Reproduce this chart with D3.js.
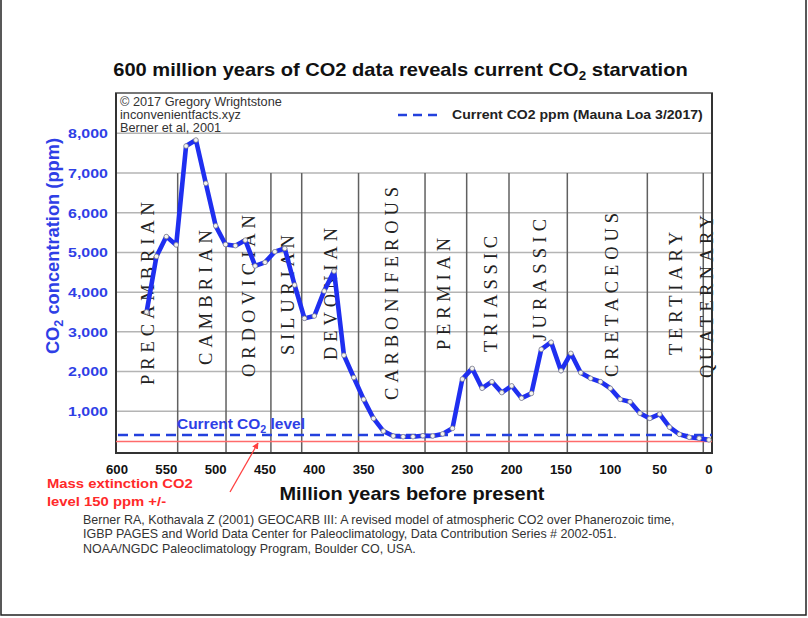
<!DOCTYPE html>
<html><head><meta charset="utf-8">
<script src="https://cdn.jsdelivr.net/npm/d3@7"></script>
<style>body{margin:0;background:#fff}svg{display:block}</style>
</head><body><svg id="c" width="808" height="618"></svg>
<script>
// ---- data ----
const ages = [570,560,550,540,530,520,510,500,490,480,470,460,450,440,430,420,410,400,390,380,370,360,350,340,330,320,310,300,290,280,270,260,250,240,230,220,210,200,190,180,170,160,150,140,130,120,110,100,90,80,70,60,50,40,30,20,10,0];
const co2 = [3500,4900,5400,5190,7680,7830,6740,5670,5200,5170,5310,4660,4750,5020,5100,4180,3340,3400,4030,4530,2410,1850,1300,820,500,378,360,360,385,378,430,570,1810,2080,1580,1745,1470,1640,1330,1450,2560,2740,2020,2460,1970,1830,1745,1580,1300,1240,950,820,930,600,420,345,320,280];
const yTicks = [1000,2000,3000,4000,5000,6000,7000,8000];
const xTicks = [600,550,500,450,400,350,300,250,200,150,100,50,0];
const periodBoundaries = [538.5,489.5,444,412.8,355.2,287.8,245.6,202.7,143.6,62.5,5.8];
const periodNames = ["PRECAMBRIAN","CAMBRIAN","ORDOVICIAN","SILURIAN","DEVONIAN","CARBONIFEROUS","PERMIAN","TRIASSIC","JURASSIC","CRETACEOUS","TERTIARY","QUATERNARY"];
const periodLabelAge = [569.1,510.8,467.2,427.7,384.1,321.3,268.6,221.9,171.3,99.3,34.4,3];
const currentCO2 = 403;
const extinctionCO2 = 240;
const captionLines = [
  "Berner RA, Kothavala Z (2001) GEOCARB III: A revised model of atmospheric CO2 over Phanerozoic time,",
  "IGBP PAGES and World Data Center for Paleoclimatology, Data Contribution Series # 2002-051.",
  "NOAA/NGDC Paleoclimatology Program, Boulder CO, USA."
];
const creditLines = ["\u00A9 2017 Gregory Wrightstone","inconvenientfacts.xyz","Berner et al, 2001"];
const noteLines = ["Mass extinction CO2","level 150 ppm +/-"];

// ---- layout (label extents in ppm along the rotated text) ----
const periodLabelSpan = [[1662,6270],[2166,5565],[1864,5943],[2418,5439],[2292,5616],[1284,6648],[2543,5364],[2493,5414],[2770,5842],[1864,5993],[2418,5515],[1838,5943]];

const svg = d3.select("#c");
const SANS = "'Liberation Sans', Arial, sans-serif";
const SERIF = "'Liberation Serif', 'Times New Roman', serif";
const BLUE = "#2f3fe6";

// horizontal stretch helper: scales text horizontally about anchor x
function stretch(sel, ax, k){ sel.attr("transform",`translate(${ax},0) scale(${k},1) translate(${-ax},0)`); }
function kFor(node, target){ return target / node.getComputedTextLength(); }

svg.append("rect").attr("width",808).attr("height",618).attr("fill","#fff");
svg.append("path").attr("d","M1,0V615H806V0").attr("fill","none").attr("stroke","#222").attr("stroke-width",1.5);

const x = d3.scaleLinear().domain([600,0]).range([117,709]);
const y = d3.scaleLinear().domain([0,9000]).range([451,93.6]);
const L=116,R=712,T=93,B=453;

svg.append("g").selectAll("line").data(yTicks).join("line")
  .attr("x1",L).attr("x2",R).attr("y1",d=>y(d)).attr("y2",d=>y(d))
  .attr("stroke","#b4b4b4").attr("stroke-width",1.5);
svg.append("g").selectAll("line").data(periodBoundaries).join("line")
  .attr("x1",d=>x(d)).attr("x2",d=>x(d)).attr("y1",y(7000)).attr("y2",B)
  .attr("stroke","#606060").attr("stroke-width",1.5);

svg.append("g").selectAll("text").data(periodNames).join("text")
  .attr("transform",(d,i)=>`translate(${x(periodLabelAge[i])+6.5},${y(periodLabelSpan[i][0])}) rotate(-90)`)
  .attr("textLength",(d,i)=>y(periodLabelSpan[i][0])-y(periodLabelSpan[i][1]))
  .attr("lengthAdjust","spacing")
  .attr("font-family",SERIF).attr("font-size",18.5).attr("fill","#222")
  .text(d=>d);

svg.append("rect").attr("x",L).attr("y",T).attr("width",R-L).attr("height",B-T)
  .attr("fill","none").attr("stroke","#777").attr("stroke-width",2);
svg.append("path").attr("d",`M${L},${T}V${B}H${R}V${T}`).attr("fill","none").attr("stroke","#333").attr("stroke-width",2);

svg.append("line").attr("x1",L).attr("x2",R).attr("y1",y(extinctionCO2)).attr("y2",y(extinctionCO2))
  .attr("stroke","#ff6b6b").attr("stroke-width",1.6);
svg.append("line").attr("x1",L+2).attr("x2",R).attr("y1",y(currentCO2)).attr("y2",y(currentCO2))
  .attr("stroke","#2340dd").attr("stroke-width",2.5).attr("stroke-dasharray","10,6");

const pts = ages.map((a,i)=>[a,co2[i]]);
svg.append("path").datum(pts)
  .attr("d",d3.line().x(d=>x(d[0])).y(d=>y(d[1])))
  .attr("fill","none").attr("stroke","#1f2ff0").attr("stroke-width",4.6).attr("stroke-linejoin","round");
svg.append("g").selectAll("circle").data(pts).join("circle")
  .attr("cx",d=>x(d[0])).attr("cy",d=>y(d[1])).attr("r",2.3)
  .attr("fill","#f4f4f4").attr("stroke","#888").attr("stroke-width",0.8);

// y tick labels
const yl = svg.append("g").selectAll("text").data(yTicks).join("text")
  .attr("x",108).attr("y",d=>y(d)+4.8).attr("text-anchor","end")
  .attr("font-family",SANS).attr("font-weight","bold").attr("font-size",13).attr("fill",BLUE)
  .text(d=>d3.format(",")(d));
{ const k = kFor(yl.nodes()[7], 40); yl.each(function(){ stretch(d3.select(this),108,k); }); }

// x tick labels
const xl = svg.append("g").selectAll("text").data(xTicks).join("text")
  .attr("x",d=>x(d)).attr("y",474.5).attr("text-anchor","middle")
  .attr("font-family",SANS).attr("font-weight","bold").attr("font-size",12.5).attr("fill","#111")
  .text(d=>d);
{ const k = kFor(xl.nodes()[0], 22); xl.each(function(d){ stretch(d3.select(this),x(d),k); }); }

// y axis title
const yt = svg.append("text").attr("transform","translate(59,246) rotate(-90)").attr("text-anchor","middle")
  .attr("font-family",SANS).attr("font-weight","bold").attr("font-size",18.3).attr("fill",BLUE);
yt.append("tspan").text("CO");
yt.append("tspan").attr("font-size",12.5).attr("dy",4).text("2");
yt.append("tspan").attr("dy",-4).text(" concentration (ppm)");

// x axis title
const xt = svg.append("text").attr("x",412).attr("y",500.5).attr("text-anchor","middle")
  .attr("font-family",SANS).attr("font-weight","bold").attr("font-size",18).attr("fill","#111")
  .text("Million years before present");
stretch(xt,412,kFor(xt.node(),265));

// title
const tt = svg.append("text").attr("x",400.5).attr("y",76.5).attr("text-anchor","middle")
  .attr("font-family",SANS).attr("font-weight","bold").attr("font-size",18).attr("fill","#111");
tt.append("tspan").text("600 million years of CO2 data reveals current CO");
tt.append("tspan").attr("font-size",12).attr("dy",4).text("2");
tt.append("tspan").attr("dy",-4).text(" starvation");
stretch(tt,400.5,kFor(tt.node(),575));

// credits
const cr = svg.append("g").selectAll("text").data(creditLines).join("text")
  .attr("x",120).attr("y",(d,i)=>106.5+i*12.7)
  .attr("font-family",SANS).attr("font-size",12).attr("fill","#333")
  .text(d=>d);
{ const k = kFor(cr.nodes()[0], 162); cr.each(function(){ stretch(d3.select(this),120,k); }); }

// legend
svg.append("line").attr("x1",398).attr("x2",442).attr("y1",115).attr("y2",115)
  .attr("stroke","#2340dd").attr("stroke-width",2.5).attr("stroke-dasharray","9,6");
const lg = svg.append("text").attr("x",452).attr("y",119.5)
  .attr("font-family",SANS).attr("font-weight","bold").attr("font-size",12.5).attr("fill","#222")
  .text("Current CO2 ppm (Mauna Loa 3/2017)");
stretch(lg,452,kFor(lg.node(),251));

// Current CO2 level label
const cl = svg.append("text").attr("x",177).attr("y",429.5)
  .attr("font-family",SANS).attr("font-weight","bold").attr("font-size",14.5).attr("fill",BLUE);
cl.append("tspan").text("Current CO");
cl.append("tspan").attr("font-size",10).attr("dy",4).text("2");
cl.append("tspan").attr("dy",-4).text(" level");
stretch(cl,177,kFor(cl.node(),128));

// extinction annotation
svg.append("defs").append("marker").attr("id","ah").attr("viewBox","0 0 10 10").attr("refX",9).attr("refY",5)
  .attr("markerWidth",5).attr("markerHeight",5).attr("orient","auto")
  .append("path").attr("d","M0,0L10,5L0,10z").attr("fill","#ff4040");
svg.append("line").attr("x1",230).attr("y1",492).attr("x2",258).attr("y2",443)
  .attr("stroke","#ff4040").attr("stroke-width",1.3).attr("marker-end","url(#ah)");
const nt = svg.append("g").selectAll("text").data(noteLines).join("text")
  .attr("x",47).attr("y",(d,i)=>488.5+i*18)
  .attr("font-family",SANS).attr("font-weight","bold").attr("font-size",13.5).attr("fill","#ff2a2a")
  .text(d=>d);
{ const k = kFor(nt.nodes()[0], 146); nt.each(function(){ stretch(d3.select(this),47,k); }); }

// caption
const cp = svg.append("g").selectAll("text").data(captionLines).join("text")
  .attr("x",83).attr("y",(d,i)=>524+i*14.3)
  .attr("font-family",SANS).attr("font-size",12).attr("fill","#333")
  .text(d=>d);
{ const k = kFor(cp.nodes()[0], 592); cp.each(function(){ stretch(d3.select(this),83,k); }); }
</script></body></html>
